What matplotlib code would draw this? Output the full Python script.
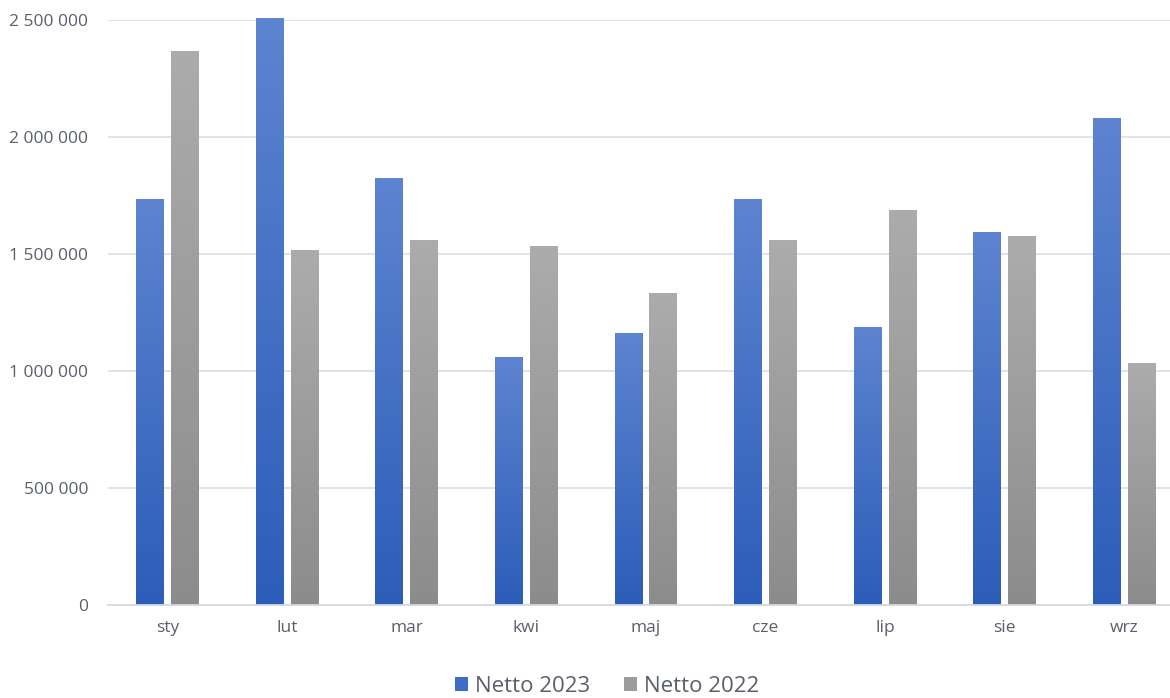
import matplotlib.pyplot as plt
import matplotlib.colors as mcolors
import numpy as np
from matplotlib.ticker import FuncFormatter, MultipleLocator
from matplotlib.patches import Patch

plt.rcParams['font.family'] = ['Open Sans', 'DejaVu Sans']

# dane
miesiace = ['sty', 'lut', 'mar', 'kwi', 'maj', 'cze', 'lip', 'sie', 'wrz']
netto_2023 = [1735000, 2508000, 1821000, 1056000, 1162000, 1731000, 1188000, 1594000, 2077000]
netto_2022 = [2367000, 1513000, 1556000, 1534000, 1333000, 1556000, 1684000, 1573000, 1034000]

kolor_2023 = ('#5D84D0', '#2C5DB9')   # góra, dół
kolor_2022 = ('#ACACAC', '#8C8C8C')
kolor_tekstu = '#595F6B'
kolor_siatki = '#DDE1E8'


def gradient_bars(ax, bars, top, bottom):
    cmap = mcolors.LinearSegmentedColormap.from_list('g', [bottom, top])
    grad = np.linspace(0, 1, 256).reshape(-1, 1)
    for bar in bars:
        bar.set_facecolor('none')
        x0, y0 = bar.get_x(), bar.get_y()
        w, h = bar.get_width(), bar.get_height()
        im = ax.imshow(grad, extent=[x0, x0 + w, y0, y0 + h], origin='lower',
                       cmap=cmap, aspect='auto', zorder=2, clip_on=False)
        im.set_clip_path(bar)


fig = plt.figure(figsize=(11.7, 6.98), dpi=100)
# obszar wykresu wychodzi poza prawą krawędź (obraz przycięty)
ax = fig.add_axes([107.7 / 1170, 0.1332, 1076.6 / 1170, 0.8381])

x = np.arange(len(miesiace))
w = 0.234
gap = 0.0585
b1 = ax.bar(x - (w + gap) / 2, netto_2023, w, linewidth=0, zorder=3, clip_on=False)
b2 = ax.bar(x + (w + gap) / 2, netto_2022, w, linewidth=0, zorder=3, clip_on=False)
gradient_bars(ax, b1, *kolor_2023)
gradient_bars(ax, b2, *kolor_2022)

ax.set_xlim(-0.5, len(miesiace) - 0.5)
ax.set_ylim(0, 2500000)
ax.yaxis.set_major_locator(MultipleLocator(500000))
ax.yaxis.set_major_formatter(FuncFormatter(lambda v, p: f'{v:,.0f}'.replace(',', ' ')))
ax.set_xticks(x)
ax.set_xticklabels(miesiace)

ax.grid(axis='y', color=kolor_siatki, linewidth=1.3, zorder=0)
ax.set_axisbelow(True)
for s in ['top', 'right', 'left']:
    ax.spines[s].set_visible(False)
ax.spines['bottom'].set_color('#D5D9E0')
ax.spines['bottom'].set_linewidth(1.3)
ax.tick_params(axis='both', length=0, labelsize=12.5, labelcolor=kolor_tekstu)
ax.tick_params(axis='y', pad=14)
ax.tick_params(axis='x', pad=11)

uchwyty = [Patch(facecolor='#3F6CC6', label='Netto 2023'),
           Patch(facecolor='#9C9C9C', label='Netto 2022')]
fig.legend(handles=uchwyty, loc='center', bbox_to_anchor=(607 / 1170, 1 - 686 / 698),
           ncol=2, frameon=False, fontsize=16, labelcolor=kolor_tekstu,
           handlelength=0.6, handleheight=0.6, handletextpad=0.3, columnspacing=1.5)

fig.savefig('out.png', dpi=100)
